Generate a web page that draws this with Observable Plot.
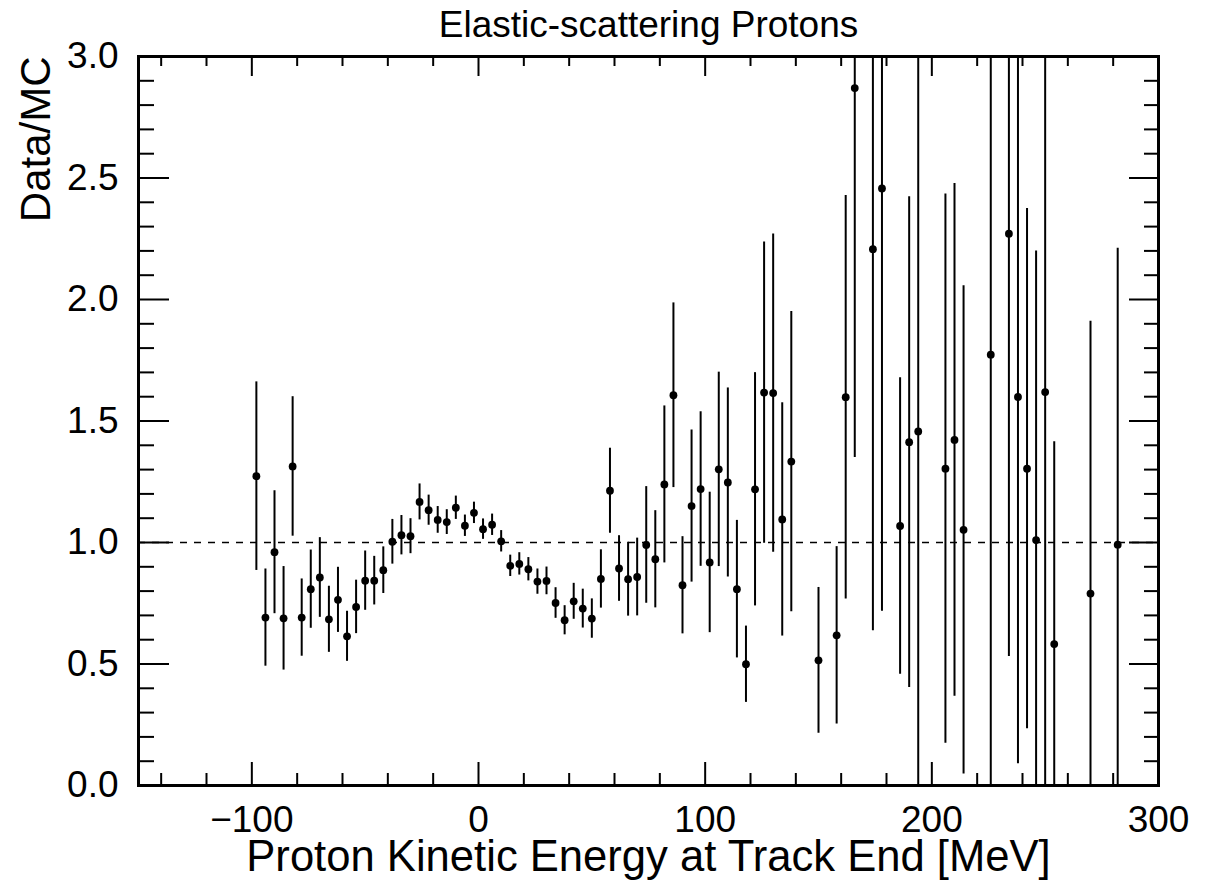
<!DOCTYPE html>
<html><head><meta charset="utf-8">
<script src="https://cdn.jsdelivr.net/npm/d3@7"></script>
<script src="https://cdn.jsdelivr.net/npm/@observablehq/plot@0.6"></script>
<style>body{margin:0;background:#fff;} svg{display:block}</style>
</head><body><div id="chart"></div>
<script>
const energy = [-98,-94,-90,-86,-82,-78,-74,-70,-66,-62,-58,-54,-50,-46,-42,-38,-34,-30,-26,-22,-18,-14,-10,-6,-2,2,6,10,14,18,22,26,30,34,38,42,46,50,54,58,62,66,70,74,78,82,86,90,94,98,102,106,110,114,118,122,126,130,134,138,
  150,158,162,166,174,178,186,190,194,206,210,214,226,234,238,242,246,250,254,270,282];
const ratio = [1.273,0.691,0.960,0.688,1.313,0.691,0.808,0.856,0.684,0.764,0.614,0.735,0.843,0.843,0.886,1.003,1.030,1.026,1.167,1.133,1.093,1.084,1.143,1.069,1.122,1.055,1.073,1.005,0.904,0.912,0.890,0.839,0.842,0.751,0.680,0.758,0.728,0.687,0.850,1.213,0.893,0.849,0.858,0.990,0.931,1.239,1.606,0.824,1.150,1.220,0.918,1.301,1.247,0.808,0.499,1.219,1.617,1.615,1.095,1.333,
  0.515,0.618,1.598,2.870,2.207,2.457,1.068,1.413,1.457,1.304,1.422,1.052,1.773,2.271,1.599,1.304,1.010,1.619,0.582,0.790,0.991];
const err = [0.388,0.20,0.253,0.213,0.287,0.159,0.161,0.164,0.136,0.134,0.103,0.110,0.122,0.10,0.096,0.092,0.081,0.072,0.074,0.062,0.055,0.051,0.048,0.044,0.044,0.042,0.044,0.044,0.044,0.046,0.048,0.052,0.057,0.063,0.060,0.074,0.080,0.081,0.12,0.175,0.135,0.152,0.16,0.24,0.20,0.323,0.38,0.20,0.313,0.318,0.289,0.40,0.389,0.283,0.157,0.48,0.62,0.655,0.48,0.618,
  0.30,0.365,0.83,1.52,1.57,1.74,0.61,1.01,1.70,1.13,1.055,1.005,1.90,1.74,1.51,1.07,1.19,1.70,0.833,1.12,1.22];

const xMajorTicks = [-100, 0, 100, 200, 300];
const xMinorTicks = [-140,-120,-80,-60,-40,-20,20,40,60,80,120,140,160,180,220,240,260,280];
const yMajorTicks = [0, 0.5, 1, 1.5, 2, 2.5, 3];
const yMinorTicks = [0.1,0.2,0.3,0.4,0.6,0.7,0.8,0.9,1.1,1.2,1.3,1.4,1.6,1.7,1.8,1.9,2.1,2.2,2.3,2.4,2.6,2.7,2.8,2.9];
const referenceLine = [1];
const title = "Elastic-scattering Protons";
const xLabel = "Proton Kinetic Energy at Track End [MeV]";
const yLabel = "Data/MC";

const W = 1215, H = 880, mL = 138, mR = 57, mT = 56, mB = 95;
const iW = W - mL - mR, iH = H - mT - mB;
const points = energy.map((e, i) => ({e, r: ratio[i], lo: ratio[i] - err[i], hi: ratio[i] + err[i]}));
const font = "'Liberation Sans', Arial, Helvetica, sans-serif";

const chart = Plot.plot({
  width: W, height: H,
  marginLeft: mL, marginRight: mR, marginTop: mT, marginBottom: mB,
  style: {fontFamily: font, background: "#fff", color: "#000"},
  x: {domain: [-150, 300], label: null},
  y: {domain: [0, 3], label: null},
  marks: [
    Plot.ruleY(referenceLine, {y: d => d, stroke: "#000", strokeWidth: 1.6, strokeDasharray: "7,7"}),
    Plot.ruleX(points, {x: "e", y1: "lo", y2: "hi", stroke: "#000", strokeWidth: 2, clip: true}),
    Plot.dot(points, {x: "e", y: "r", r: 3.9, fill: "#000", stroke: "none"}),
    // bottom ticks
    Plot.ruleX(xMajorTicks, {x: d => d, insetTop: iH - 23, strokeWidth: 2}),
    Plot.ruleX(xMinorTicks, {x: d => d, insetTop: iH - 12, strokeWidth: 2}),
    // top ticks
    Plot.ruleX(xMajorTicks, {x: d => d, insetBottom: iH - 20, strokeWidth: 2}),
    Plot.ruleX(xMinorTicks, {x: d => d, insetBottom: iH - 10, strokeWidth: 2}),
    // left ticks
    Plot.ruleY(yMajorTicks, {y: d => d, insetRight: iW - 31, strokeWidth: 2}),
    Plot.ruleY(yMinorTicks, {y: d => d, insetRight: iW - 16, strokeWidth: 2}),
    // right ticks
    Plot.ruleY(yMajorTicks, {y: d => d, insetLeft: iW - 29, strokeWidth: 2}),
    Plot.ruleY(yMinorTicks, {y: d => d, insetLeft: iW - 14, strokeWidth: 2}),
    Plot.frame({stroke: "#000", strokeWidth: 3}),
    Plot.axisX({ticks: xMajorTicks, tickSize: 0, tickPadding: 20, tickFormat: d3.format("d"), fontSize: 37, label: null}),
    Plot.axisY({ticks: yMajorTicks, tickSize: 0, tickPadding: 20, tickFormat: d3.format(".1f"), fontSize: 37, label: null}),
    Plot.text([yLabel], {text: d => d, frameAnchor: "top-left", rotate: -90, textAnchor: "end", dx: -118, fontSize: 42}),
    Plot.text([xLabel], {text: d => d, frameAnchor: "bottom", lineAnchor: "top", dy: 55, fontSize: 43.6}),
    Plot.text([title], {text: d => d, frameAnchor: "top", lineAnchor: "top", dy: -46, fontSize: 37})
  ]
});
document.getElementById("chart").appendChild(chart);
</script>
</body></html>
